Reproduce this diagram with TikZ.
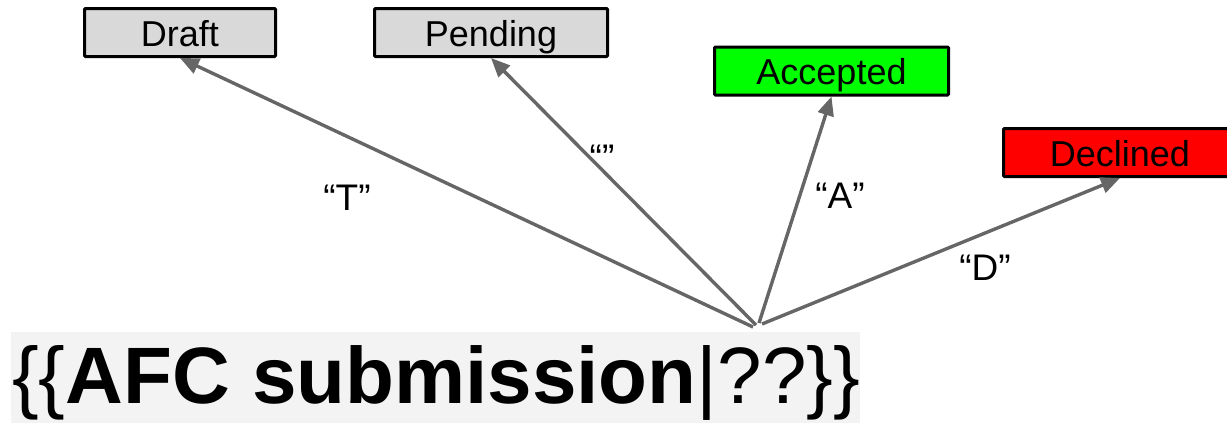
\documentclass[tikz,border=0pt]{standalone}
\usepackage{fontspec}
\setmainfont{Liberation Sans}
\usetikzlibrary{arrows.meta}
\definecolor{boxgray}{RGB}{217, 217, 217}
\definecolor{okgreen}{RGB}{0, 255, 0}
\definecolor{nored}{RGB}{255, 0, 0}
\definecolor{linegray}{RGB}{102, 102, 102}
\definecolor{tplback}{RGB}{243, 243, 243}

\begin{document}
\begin{tikzpicture}[x=1pt,y=-1pt,>={Triangle[length=19pt,width=16pt]},
        state/.style={draw=black, line width=3pt, rounded corners=1pt, inner sep=0pt,
            minimum height=48pt, text height=27pt, text depth=0pt, font=\fontsize{36}{40}\selectfont},
        flow/.style={->, draw=linegray, line width=3.4pt},
        lbl/.style={anchor=base, font=\fontsize{37}{42}\selectfont}]
                \useasboundingbox (0,0) rectangle (1227,423);
                \clip (0,0) rectangle (1227,423);
                % template text
                \fill[tplback] (11,332) rectangle (860,423);
                \node[anchor=base west, inner sep=0pt, font=\fontsize{80}{90}\selectfont] (tpl) at (12,403)
                    {\{\{\textbf{AFC submission}|??\}\}};
                % states
                \node[state, fill=boxgray, minimum width=191pt] (draft) at (180,32.5) {Draft};
                \node[state, fill=boxgray, minimum width=233pt] (pending) at (491,32.5) {Pending};
                \node[state, fill=okgreen, minimum width=234pt] (accepted) at (831.5,71) {Accepted};
                \node[state, fill=nored, minimum width=233pt] (declined) at (1120,152.5) {Declined};
                % arrows
                \coordinate (fromT) at (753,327);
                \coordinate (fromE) at (756,325);
                \coordinate (fromA) at (759,323);
                \coordinate (fromD) at (762,324);
                \draw[flow] (fromT) -- (draft.south);
                \draw[flow] (fromE) -- (pending.south);
                \draw[flow] (fromA) -- (accepted.south);
                \draw[flow] (fromD) -- (declined.south);
                \node[lbl] (labT) at (347,210) {“T”};
                \node[lbl] (labE) at (602,170) {“”};
                \node[lbl] (labA) at (840,208) {“A”};
                \node[lbl] (labD) at (985,280) {“D”};
            \end{tikzpicture}
\end{document}
